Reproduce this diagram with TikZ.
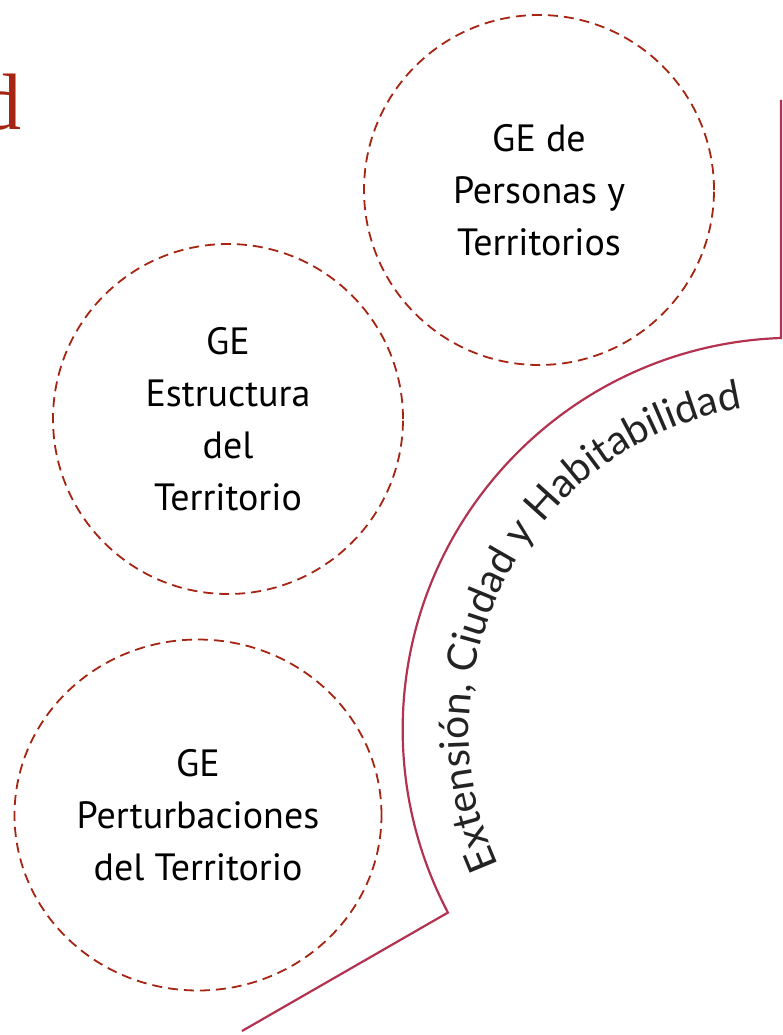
\documentclass[tikz,border=0pt]{standalone}
\usepackage{fontspec}
\setmainfont{PT Sans}
\newfontfamily\arcfont{Lato}
\newfontfamily\titlefont{Liberation Serif}
\usetikzlibrary{shapes.geometric,decorations.text}
\definecolor{ringred}{RGB}{166,36,18}
\definecolor{railred}{RGB}{178,50,80}
\definecolor{arcgray}{RGB}{35,35,35}

\begin{document}
\begin{tikzpicture}[x=1pt,y=-1pt,
  ge/.style={circle,draw=ringred,dash pattern=on 10pt off 6pt,line width=1.8pt,
    minimum size=350pt,inner sep=0pt,align=center,font=\fontsize{38}{52}\selectfont},
  rail/.style={draw=railred,line width=2.2pt}]
\useasboundingbox (0,0) rectangle (782,1035);

% leftover of the title
\node [anchor=base east,inner sep=0pt,text=ringred,font=\titlefont\fontsize{80}{80}\selectfont] (title) at (22,130) {d};

% the three groups
\node [ge] (personas) at (539,190) {GE de\\Personas y\\Territorios};
\node [ge] (estructura) at (228,419) {GE\\Estructura\\del\\Territorio};
\node [ge,ellipse,minimum width=367pt,minimum height=351pt] (perturb) at (198,815) {GE\\Perturbaciones\\del Territorio};

% the rail with its curved label
\coordinate (hub) at (795,730);
\coordinate (railtop) at (781,100);
\coordinate (railend) at (242,1031);
\draw [rail] (railtop) -- (781,338) arc[start angle=268,end angle=152.2,radius=392] -- (railend);
\path [decorate,decoration={text along path,text align=left,
    text={|\arcfont\fontsize{40.7}{43}\selectfont\color{arcgray}|Extensión, Ciudad y Habitabilidad}}]
  (hub) ++(155.5:326) arc[start angle=155.5,end angle=275,radius=326];
\end{tikzpicture}
\end{document}
